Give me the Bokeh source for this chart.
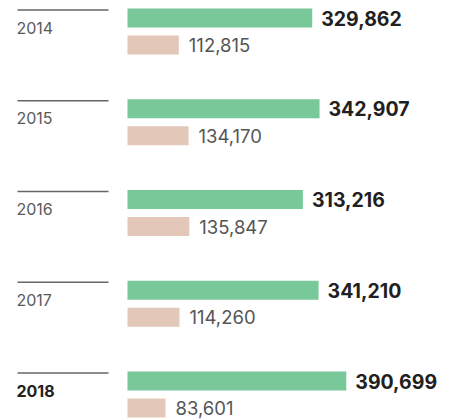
from bokeh.plotting import figure
from bokeh.models import Range1d, ColumnDataSource
from bokeh.core.properties import value
from bokeh.embed import file_html
from bokeh.resources import INLINE

# ---- data ----
years = ["2014", "2015", "2016", "2017", "2018"]
primary = [329862, 342907, 313216, 341210, 390699]
secondary = [112815, 134170, 135847, 114260, 83601]
highlight = [False, False, False, False, True]

# ---- layout constants ----
W, H = 455, 419
ROW_PX = 90.75          # vertical distance between year groups (px)
TOP_PAD = 17.5          # px from top of plot to centre of first green bar
ORIGIN = 127            # px from left edge where bars begin
G_SCALE = 0.00056       # px per unit, primary bars
P_SCALE = 0.000455      # px per unit, secondary bars
BAR_H = 19 / ROW_PX
PINK_OFF = 27 / ROW_PX
RULE_OFF = -8 / ROW_PX
YEAR_OFF = 9.5 / ROW_PX
LEFT_X = 16

top = -TOP_PAD / ROW_PX
bottom = top + H / ROW_PX

p = figure(width=W, height=H, output_backend="svg", toolbar_location=None,
           x_range=Range1d(0, W), y_range=Range1d(bottom, top),
           min_border=0, min_border_left=0, min_border_right=0,
           min_border_top=0, min_border_bottom=0)
p.extra_x_ranges = {
    "green": Range1d(-ORIGIN / G_SCALE, (W - ORIGIN) / G_SCALE),
    "pink": Range1d(-ORIGIN / P_SCALE, (W - ORIGIN) / P_SCALE),
}
p.axis.visible = False
p.grid.visible = False
p.outline_line_color = None
p.background_fill_color = "white"
p.border_fill_color = "white"

idx = list(range(len(years)))
src = ColumnDataSource(dict(
    yg=[i for i in idx],
    yp=[i + PINK_OFF for i in idx],
    yr=[i + RULE_OFF for i in idx],
    primary=primary,
    secondary=secondary,
    plab=[f"{v:,}" for v in primary],
    slab=[f"{v:,}" for v in secondary],
))

# bars
p.hbar(y="yg", left=0, right="primary", height=BAR_H, source=src,
       x_range_name="green", fill_color="#78C89A", line_color=None)
p.hbar(y="yp", left=0, right="secondary", height=BAR_H, source=src,
       x_range_name="pink", fill_color="#E3C7B9", line_color=None)

# value labels
p.text(x="primary", y="yg", text="plab", source=src, x_range_name="green",
       x_offset=9, text_baseline="middle", text_align="left",
       text_font=value("Inter"), text_font_style="bold",
       text_font_size="19.5px", text_color="#231f20")
p.text(x="secondary", y="yp", text="slab", source=src, x_range_name="pink",
       x_offset=10, text_baseline="middle", text_align="left",
       text_font=value("Inter"), text_font_style="normal",
       text_font_size="18.5px", text_color="#555555")

# year rules
p.segment(x0=17, x1=108, y0="yr", y1="yr", source=src,
          line_color="#666666", line_width=1.4)

# year labels
reg = [i for i in idx if not highlight[i]]
hi = [i for i in idx if highlight[i]]
p.text(x=[LEFT_X] * len(reg), y=[i + YEAR_OFF for i in reg],
       text=[years[i] for i in reg], text_baseline="middle", text_align="left",
       text_font=value("Inter"), text_font_style="normal",
       text_font_size="16px", text_color="#5a5a5a")
p.text(x=[LEFT_X] * len(hi), y=[i + YEAR_OFF for i in hi],
       text=[years[i] for i in hi], text_baseline="middle", text_align="left",
       text_font=value("Inter"), text_font_style="bold",
       text_font_size="16px", text_color="#231f20")

open("out.html", "w").write(file_html(p, INLINE))
